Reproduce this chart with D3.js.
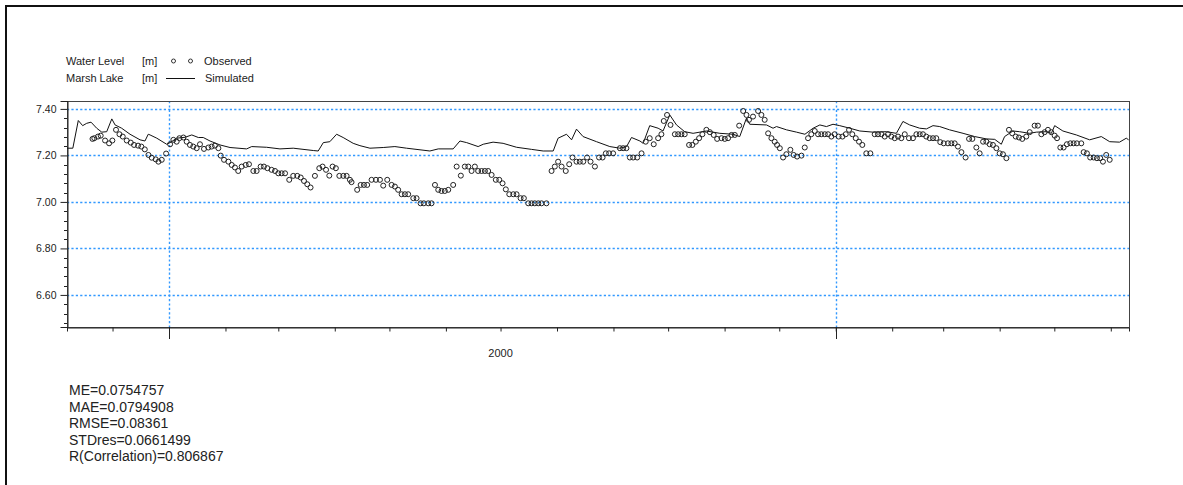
<!DOCTYPE html>
<html>
<head>
<meta charset="utf-8">
<script src="https://cdn.jsdelivr.net/npm/d3@7/dist/d3.min.js"></script>
<style>
  html, body { margin: 0; padding: 0; background: #fff; }
  svg { display: block; font-family: "Liberation Sans", Arial, sans-serif; }
</style>
</head>
<body>
<svg id="chart" width="1183" height="485"></svg>
<script>
// Marsh Lake water level, observed vs simulated.
// Days are counted from 1999-11-01.
const baseDate = new Date(1999, 10, 1);

const simDays = [5, 8.2, 11.2, 13.6, 15.8, 18.2, 21.3, 24.1, 26.8, 29.6, 31.4, 35, 39.6, 45.1, 47.8, 49.6, 50.6, 54.3, 59.7, 61.6, 65.2, 69.8, 73.5, 77.1, 79.8, 83.5, 89, 94.5, 103.6, 106.4, 114.6, 121.9, 129.2, 140.2, 142.9, 145.7, 149.3, 153, 156.6, 162.1, 165.8,
  171.3, 178.6, 185, 191.4, 204.2, 208.8, 217, 220.7, 224.4, 230.7, 233.5, 238.9, 244.4, 251.8, 260, 266.4, 271.9, 274.6, 279.2, 282, 284.7, 288.3, 295.7, 303, 308.5, 312.2, 314.9, 319.5, 321.3,
  324.9, 329.5, 332.2, 335.9, 339.6, 344.1, 348.7, 356, 363.4, 370.6, 374.3, 378, 379.8, 389, 392.6, 394.5, 400, 405.5, 410.1, 414.6, 418.3, 421.9, 425.5, 429.2, 434.7, 440.2, 447.5, 454.8, 460.3, 463.9, 467.6, 473.1, 476.8, 480.4, 484.1,
  489.5, 496.9, 503.3, 509.7, 514.3, 517.9, 519.7, 524.3, 527.9, 533.4, 537.1, 542.6, 545.4, 547.2, 551.7, 559.1, 566.4, 572.8, 577.4, 582.8, 586.5, 587.8];
const simLevel = [7.231, 7.231, 7.35, 7.328, 7.338, 7.343, 7.317, 7.30, 7.302, 7.357, 7.331, 7.317, 7.291, 7.267, 7.262, 7.291, 7.288, 7.274, 7.248, 7.255, 7.274, 7.278, 7.288, 7.277, 7.277, 7.262, 7.245, 7.234, 7.228, 7.238, 7.235, 7.228, 7.231, 7.221, 7.219, 7.255, 7.259, 7.291, 7.277, 7.252, 7.242,
  7.231, 7.234, 7.238, 7.231, 7.219, 7.228, 7.228, 7.262, 7.255, 7.238, 7.248, 7.257, 7.252, 7.235, 7.226, 7.219, 7.219, 7.274, 7.291, 7.267, 7.313, 7.281, 7.259, 7.238, 7.231, 7.238, 7.277, 7.262, 7.252,
  7.328, 7.317, 7.305, 7.374, 7.331, 7.302, 7.295, 7.305, 7.295, 7.291, 7.281, 7.36, 7.334, 7.331, 7.317, 7.324, 7.310, 7.30, 7.291, 7.317, 7.331, 7.324, 7.334, 7.328, 7.317, 7.305, 7.30, 7.302, 7.295, 7.346, 7.331, 7.317, 7.314, 7.328, 7.324,
  7.310, 7.295, 7.281, 7.271, 7.269, 7.248, 7.281, 7.305, 7.302, 7.295, 7.30, 7.302, 7.295, 7.328, 7.305, 7.288, 7.267, 7.281, 7.259, 7.257, 7.274, 7.267];

const obsDays = [19, 20, 22, 23.5, 25.9, 28.1, 29.9, 31.9, 33.8, 35.6, 37.8, 40, 41.8, 44, 45.8, 47.7, 49.7, 51.5, 53.7, 55.2, 57, 59.4, 61.6, 63.4, 65.2, 66.7, 68.9, 70.7, 72.5, 74.3, 76.2, 78, 80.2, 82.6, 84.4, 86.2, 88.1, 89.4, 91.2, 93.6, 95.4, 97.2, 99, 100.9, 103.1, 104.9, 107.3, 109.1, 111.3, 113.1, 115, 117.3, 119.2, 121, 122.8, 124.7, 127, 129.2, 131.4, 133.3, 135.1, 136.9, 138.7, 141.1, 143.5, 145.3, 147.2, 149, 150.8, 152.6, 154.5, 156.7, 158.5, 160.3,
  161.2, 164.3, 166.2, 168, 169.8, 172.2, 174.6, 176.8, 178.6, 180.8, 183.2, 185, 186.8, 188.7, 190.5, 192.3, 195.1, 196.9, 199.1, 200.9, 203.3, 205.1, 207, 208.8, 210.6, 212.4, 214.3, 217, 218.9, 221.2, 223.4, 225.3, 227.1, 228.9, 230.7, 232.6, 234.4, 236.2, 238.1, 240.4, 242.3, 244.1, 245.9, 247.8, 250, 251.8, 254, 255.8, 258.2, 260, 261.8, 263.7, 265.5, 268.2,
  271, 272.8, 274.6, 276.5, 278.8, 280.7, 282.5, 284.7, 286.5, 288.4, 290.5, 292.4, 294.8, 297.1, 299, 300.8, 302.6, 304.8, 308.5, 310.3, 312.1, 314, 315.8, 318, 320.4,
  322.7, 324.9, 327.1, 329.5, 331.3, 332.6, 334.4, 336.3, 338.7, 340.5, 342.3, 344.1, 346.5, 348.3, 350.2, 352, 353.8, 356, 357.9, 360, 361.9, 364.3, 366.1, 367.9, 369.8, 371.6, 374, 376.2, 378, 379.4, 381.6, 384.4, 386.2, 388, 389.9, 391.7, 393.5, 394.8, 396.3, 398.1, 399.9, 402.1, 403.9, 405.8, 408.2, 410, 411.8, 413.6, 415.5, 417.3, 419.1, 421, 422.8, 424.6, 426.4, 428.6, 430.7, 432.5, 434.3, 436.1, 438, 439.8, 441.6, 443.8, 446, 448.4, 450.2, 452.1, 453.9, 455.7, 457.5, 459.4, 461.2, 463, 464.9, 467.2, 469.4, 471.3, 473.1, 474.9, 476.7, 478.6, 480.4, 482.2,
  484.4, 486.3, 488.6, 490.5, 492.3, 494.1, 496, 498.3, 500.2, 502, 504.2, 506, 507.9, 509.7, 511.5, 513.3, 515.2, 517, 518.8, 520.7, 522.1, 523.9, 525.8, 527.6, 529.4, 531.6, 533.5, 536.2, 538, 539.9, 541.7, 543.5, 545.3, 547.2, 548.5, 550.3, 552.1, 553.9, 555.8, 557.6, 559.4, 561.8, 563.1, 564.9, 566.7, 568.6, 570.4, 572.2, 573.7, 575.5, 577.4];
const obsLevel = [7.271, 7.274, 7.281, 7.285, 7.264, 7.252, 7.264, 7.31, 7.291, 7.281, 7.264, 7.255, 7.245, 7.242, 7.238, 7.226, 7.202, 7.19, 7.183, 7.173, 7.181, 7.208, 7.248, 7.267, 7.259, 7.274, 7.277, 7.259, 7.245, 7.238, 7.231, 7.248, 7.228, 7.234, 7.238, 7.242, 7.231, 7.199, 7.181, 7.173, 7.159, 7.148, 7.133, 7.152, 7.159, 7.162, 7.133, 7.133, 7.152, 7.152, 7.145, 7.138, 7.133, 7.123, 7.123, 7.123, 7.095, 7.112, 7.112, 7.105, 7.09, 7.076, 7.062, 7.112, 7.145, 7.152, 7.138, 7.113, 7.152, 7.145, 7.112, 7.112, 7.112, 7.095,
  7.085, 7.052, 7.073, 7.073, 7.073, 7.095, 7.095, 7.095, 7.070, 7.095, 7.073, 7.066, 7.052, 7.033, 7.033, 7.033, 7.016, 7.016, 6.994, 6.994, 6.994, 6.994, 7.073, 7.052, 7.047, 7.047, 7.052, 7.073, 7.152, 7.113, 7.152, 7.152, 7.133, 7.152, 7.133, 7.133, 7.133, 7.133, 7.116, 7.095, 7.095, 7.080, 7.054, 7.033, 7.033, 7.033, 7.016, 7.016, 6.994, 6.994, 6.994, 6.994, 6.994, 6.994,
  7.133, 7.152, 7.173, 7.152, 7.133, 7.162, 7.191, 7.173, 7.173, 7.173, 7.191, 7.173, 7.152, 7.191, 7.191, 7.209, 7.209, 7.209, 7.231, 7.231, 7.231, 7.191, 7.191, 7.191, 7.209,
  7.259, 7.274, 7.248, 7.274, 7.291, 7.348, 7.374, 7.331, 7.291, 7.291, 7.291, 7.291, 7.245, 7.245, 7.259, 7.274, 7.291, 7.310, 7.300, 7.288, 7.271, 7.274, 7.271, 7.274, 7.288, 7.288, 7.328, 7.391, 7.374, 7.353, 7.367, 7.391, 7.374, 7.353, 7.295, 7.274, 7.259, 7.245, 7.231, 7.191, 7.205, 7.224, 7.202, 7.195, 7.199, 7.234, 7.274, 7.291, 7.305, 7.291, 7.291, 7.291, 7.291, 7.281, 7.291, 7.281, 7.281, 7.291, 7.310, 7.291, 7.274, 7.259, 7.245, 7.209, 7.209, 7.291, 7.291, 7.291, 7.281, 7.291, 7.281, 7.274, 7.281, 7.274, 7.291, 7.274, 7.274, 7.291, 7.291, 7.291, 7.281, 7.274, 7.274, 7.274,
  7.257, 7.252, 7.252, 7.252, 7.252, 7.238, 7.214, 7.191, 7.271, 7.271, 7.234, 7.209, 7.259, 7.259, 7.248, 7.245, 7.231, 7.209, 7.205, 7.188, 7.310, 7.295, 7.281, 7.277, 7.271, 7.281, 7.300, 7.328, 7.328, 7.291, 7.300, 7.310, 7.300, 7.285, 7.274, 7.234, 7.234, 7.248, 7.252, 7.252, 7.252, 7.252, 7.214, 7.209, 7.191, 7.191, 7.188, 7.188, 7.173, 7.202, 7.181];

const yTickValues = [6.6, 6.8, 7.0, 7.2, 7.4];
const xDomain = [new Date(1999, 10, 6), new Date(2001, 5, 11)];
const yDomain = [6.462, 7.434];

const legendRows = [
  { name: "Water Level", unit: "[m]", label: "Observed" },
  { name: "Marsh Lake", unit: "[m]", label: "Simulated" }
];
const statLines = ["ME=0.0754757", "MAE=0.0794908", "RMSE=0.08361", "STDres=0.0661499", "R(Correlation)=0.806867"];

const dayToDate = d => new Date(baseDate.getTime() + d * 86400000);
const sim = simDays.map((d, i) => ({ date: dayToDate(d), v: simLevel[i] }));
const obs = obsDays.map((d, i) => ({ date: dayToDate(d), v: obsLevel[i] }));

const svg = d3.select("#chart");
const plot = { left: 67, right: 1129, top: 101, bottom: 327 };

const x = d3.scaleTime().domain(xDomain).range([plot.left, plot.right]);
const y = d3.scaleLinear().domain(yDomain).range([plot.bottom, plot.top]);

// outer window frame (top and left edges)
svg.append("path")
  .attr("d", `M6,485 V6 H1183`)
  .attr("fill", "none").attr("stroke", "#111").attr("stroke-width", 2);

// gridlines
const grid = svg.append("g").attr("stroke", "#3399ff").attr("stroke-width", 1.4)
  .attr("stroke-dasharray", "2.2,2.2");
grid.selectAll("line.h").data(yTickValues).join("line")
  .attr("x1", plot.left).attr("x2", plot.right)
  .attr("y1", d => Math.round(y(d)) + 0.5).attr("y2", d => Math.round(y(d)) + 0.5);
const yearTicks = x.ticks(d3.timeYear.every(1)).filter(d => x(d) > plot.left && x(d) < plot.right);
grid.selectAll("line.v").data(yearTicks).join("line")
  .attr("y1", plot.top).attr("y2", plot.bottom)
  .attr("x1", d => Math.round(x(d)) + 0.5).attr("x2", d => Math.round(x(d)) + 0.5);

// plot frame
svg.append("rect")
  .attr("x", plot.left + 0.5).attr("y", plot.top + 0.5)
  .attr("width", plot.right - plot.left).attr("height", plot.bottom - plot.top)
  .attr("fill", "none").attr("stroke", "#444").attr("stroke-width", 1);

// y axis: major labels + minor ticks
const yAxis = d3.axisLeft(y).tickValues(yTickValues).tickSize(7).tickPadding(4)
  .tickFormat(d3.format(".2f"));
const gy = svg.append("g").attr("transform", `translate(${plot.left + 0.5},0)`).call(yAxis);
gy.select(".domain").attr("stroke", "#222");
gy.selectAll(".tick line").attr("stroke", "#222");
gy.selectAll(".tick text").attr("font-family", "Liberation Sans, Arial, sans-serif")
  .attr("font-size", 10.5).attr("fill", "#222");
const yMinor = d3.range(6.48, 7.43, 0.04).filter(v => !yTickValues.some(t => Math.abs(t - v) < 1e-6));
svg.append("g").selectAll("line").data(yMinor).join("line")
  .attr("x1", plot.left - 3).attr("x2", plot.left)
  .attr("y1", d => Math.round(y(d)) + 0.5).attr("y2", d => Math.round(y(d)) + 0.5)
  .attr("stroke", "#222");

// x axis: monthly minor ticks, yearly major ticks, year label centred on the year
const gx = svg.append("g").attr("transform", `translate(0,${plot.bottom + 0.5})`)
  .call(d3.axisBottom(x).ticks(d3.timeMonth.every(1)).tickSize(4).tickFormat(""));
gx.select(".domain").attr("stroke", "#222");
gx.selectAll(".tick line").attr("stroke", "#222");
svg.append("g").selectAll("line").data(yearTicks).join("line")
  .attr("x1", d => Math.round(x(d)) + 0.5).attr("x2", d => Math.round(x(d)) + 0.5)
  .attr("y1", plot.bottom).attr("y2", plot.bottom + 12)
  .attr("stroke", "#222");
const yearLabels = d3.timeYear.range(d3.timeYear.floor(xDomain[0]), xDomain[1])
  .map(d => ({ d, mid: new Date(d.getFullYear(), 6, 1) }))
  .filter(o => x(o.mid) > plot.left + 20 && x(o.mid) < plot.right - 20);
svg.append("g").selectAll("text").data(yearLabels).join("text")
  .attr("x", o => x(o.mid)).attr("y", plot.bottom + 30)
  .attr("text-anchor", "middle").attr("font-size", 11).attr("fill", "#222")
  .text(o => d3.timeFormat("%Y")(o.d));

// simulated series
svg.append("clipPath").attr("id", "plotclip").append("rect")
  .attr("x", plot.left).attr("y", plot.top).attr("width", plot.right - plot.left).attr("height", plot.bottom - plot.top);
svg.append("path").datum(sim)
  .attr("clip-path", "url(#plotclip)")
  .attr("d", d3.line().x(d => x(d.date)).y(d => y(d.v)))
  .attr("fill", "none").attr("stroke", "#111").attr("stroke-width", 1);

// observed series
svg.append("g").selectAll("circle").data(obs).join("circle")
  .attr("cx", d => x(d.date)).attr("cy", d => y(d.v)).attr("r", 2.5)
  .attr("fill", "none").attr("stroke", "#222").attr("stroke-width", 1);

// legend
const lg = svg.append("g").attr("font-size", 11).attr("fill", "#222");
legendRows.forEach((r, i) => {
  const ty = 65 + i * 16.5;
  lg.append("text").attr("x", 66).attr("y", ty).text(r.name);
  lg.append("text").attr("x", 142).attr("y", ty).text(r.unit);
  lg.append("text").attr("x", i === 0 ? 204 : 205).attr("y", ty).text(r.label);
});
lg.selectAll("circle.lg").data([173.5, 190.5]).join("circle")
  .attr("cx", d => d).attr("cy", 61).attr("r", 2)
  .attr("fill", "none").attr("stroke", "#333");
lg.append("line").attr("x1", 166).attr("x2", 195).attr("y1", 78.5).attr("y2", 78.5)
  .attr("stroke", "#111");

// goodness-of-fit statistics
svg.append("g").selectAll("text").data(statLines).join("text")
  .attr("x", 69).attr("y", (d, i) => 395 + i * 16.6)
  .attr("font-size", 14).attr("fill", "#222")
  .text(d => d);
</script>
</body>
</html>
